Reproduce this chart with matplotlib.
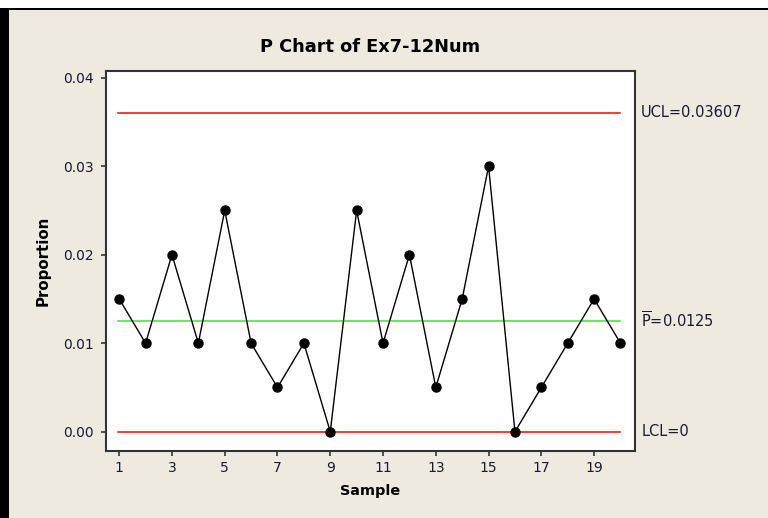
import matplotlib.pyplot as plt
from matplotlib.patches import Rectangle
import numpy as np

# p chart data (proportion defective per sample)
samples = np.arange(1, 21)
proportion = [0.015, 0.010, 0.020, 0.010, 0.025, 0.010, 0.005, 0.010, 0.000, 0.025,
              0.010, 0.020, 0.005, 0.015, 0.030, 0.000, 0.005, 0.010, 0.015, 0.010]
ucl = 0.03607
pbar = 0.0125
lcl = 0.0
ucl_label = "UCL=0.03607"
pbar_label = r"$\overline{\mathrm{P}}$=0.0125"
lcl_label = "LCL=0"
xticks = [1, 3, 5, 7, 9, 11, 13, 15, 17, 19]
yticks = [0.00, 0.01, 0.02, 0.03, 0.04]

bg = "#eeeae0"
plt.rcParams['font.family'] = ['DejaVu Sans']

fig = plt.figure(figsize=(7.68, 5.18), dpi=100, facecolor=bg)

# window frame bits around the graph
fig.patches.append(Rectangle((0, 1 - 8/518), 1, 8/518, transform=fig.transFigure,
                             facecolor="white", edgecolor="none", zorder=0))
fig.patches.append(Rectangle((0, 1 - 10/518), 1, 2/518, transform=fig.transFigure,
                             facecolor="black", edgecolor="none", zorder=0))
fig.patches.append(Rectangle((0, 0), 9/768, 1 - 8/518, transform=fig.transFigure,
                             facecolor="black", edgecolor="none", zorder=0))

ax = fig.add_axes([106/768, 67/518, 529/768, 380/518])
ax.set_facecolor("white")

ax.plot([0.95, 20], [ucl, ucl], color="#ff0000", lw=1.1)
ax.plot([0.95, 20], [pbar, pbar], color="#33e633", lw=1.1)
ax.plot([0.95, 20], [lcl, lcl], color="#ff0000", lw=1.1)
ax.plot(samples, proportion, color="black", lw=1.0, marker="o", markersize=6.5,
        markerfacecolor="black", zorder=3, clip_on=False)

ax.set_xlim(0.5, 20.55)
ax.set_ylim(-0.00218, 0.04076)
ax.set_xticks(xticks)
ax.set_yticks(yticks)
ax.set_yticklabels(["%.2f" % v for v in yticks])
ax.tick_params(direction="out", length=3.5, width=1.2, color="#333333",
               labelsize=10, labelcolor="#1a1a33")
ax.tick_params(axis="x", pad=4)
ax.tick_params(axis="y", pad=5)
for s in ax.spines.values():
    s.set_color("#333333")
    s.set_linewidth(1.5)

ax.set_xlabel("Sample", fontsize=10.4, fontweight="bold", labelpad=6)
ax.set_ylabel("Proportion", fontsize=10.8, fontweight="bold", labelpad=9)
ax.set_title("P Chart of Ex7-12Num", fontsize=12.8, fontweight="bold", pad=14)

for y, lab in [(ucl, ucl_label), (pbar, pbar_label), (lcl, lcl_label)]:
    ax.annotate(lab, xy=(1, y), xycoords=("axes fraction", "data"),
                xytext=(4.5, 0), textcoords="offset points", va="center",
                fontsize=10.5, color="#1a1a33")

plt.savefig("out.png", dpi=100, facecolor=bg)
